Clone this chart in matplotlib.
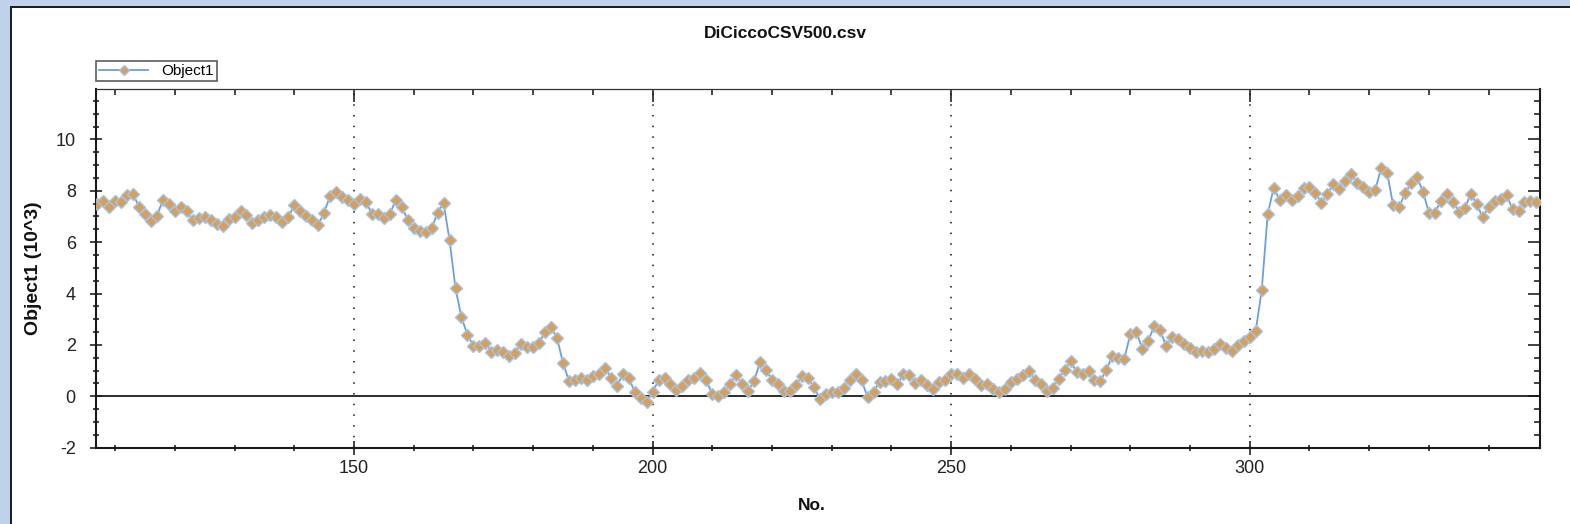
import matplotlib
matplotlib.use("Agg")
import matplotlib.pyplot as plt
import matplotlib.lines as mlines
from matplotlib.patches import Rectangle
from matplotlib.ticker import MultipleLocator
import numpy as np

title = "DiCiccoCSV500.csv"
series_name = "Object1"
x_label = "No."
y_label = "Object1 (10^3)"

x_start = 107
values = [
    7.49, 7.59, 7.38, 7.62, 7.58, 7.82, 7.88, 7.38, 7.08, 6.82,   # 107-116
    7.02, 7.64, 7.49, 7.22, 7.35, 7.22, 6.86, 6.93, 6.97, 6.86,   # 117-126
    6.71, 6.63, 6.89, 6.99, 7.22, 7.06, 6.73, 6.86, 6.97, 7.06,   # 127-136
    6.97, 6.80, 6.97, 7.45, 7.22, 7.02, 6.86, 6.67, 7.15, 7.80,   # 137-146
    7.95, 7.76, 7.63, 7.49, 7.68, 7.58, 7.10, 7.10, 6.95, 7.10,   # 147-156
    7.64, 7.38, 6.86, 6.54, 6.44, 6.40, 6.54, 7.15, 7.52, 6.08,   # 157-166
    4.20, 3.07, 2.39, 1.96, 1.95, 2.08, 1.73, 1.82, 1.73, 1.57,   # 167-176
    1.70, 2.05, 1.92, 1.92, 2.08, 2.52, 2.70, 2.27, 1.30, 0.60,   # 177-186
    0.65, 0.71, 0.65, 0.80, 0.86, 1.12, 0.73, 0.39, 0.86, 0.73,   # 187-196
    0.17, -0.05, -0.22, 0.17, 0.62, 0.73, 0.47, 0.23, 0.39, 0.65, # 197-206
    0.73, 0.91, 0.62, 0.08, 0.00, 0.17, 0.49, 0.82, 0.49, 0.21,   # 207-216
    0.60, 1.34, 1.01, 0.65, 0.47, 0.21, 0.21, 0.43, 0.78, 0.73,   # 217-226
    0.36, -0.09, 0.09, 0.17, 0.17, 0.34, 0.62, 0.88, 0.62, -0.03, # 227-236
    0.17, 0.56, 0.60, 0.69, 0.47, 0.88, 0.82, 0.52, 0.62, 0.43,   # 237-246
    0.30, 0.56, 0.62, 0.86, 0.88, 0.73, 0.88, 0.69, 0.43, 0.47,   # 247-256
    0.30, 0.17, 0.30, 0.56, 0.69, 0.82, 0.99, 0.65, 0.48, 0.22,   # 257-266
    0.34, 0.67, 1.04, 1.36, 0.95, 0.86, 0.97, 0.65, 0.60, 1.04,   # 267-276
    1.57, 1.51, 1.47, 2.42, 2.51, 1.86, 2.16, 2.74, 2.57, 1.95,   # 277-286
    2.31, 2.25, 2.03, 1.90, 1.73, 1.77, 1.73, 1.86, 2.03, 1.90,   # 287-296
    1.77, 1.99, 2.16, 2.31, 2.55, 4.13, 7.08, 8.12, 7.64, 7.84,   # 297-306
    7.64, 7.80, 8.10, 8.16, 7.90, 7.54, 7.88, 8.27, 8.06, 8.39,   # 307-316
    8.65, 8.32, 8.14, 7.97, 8.03, 8.88, 8.71, 7.45, 7.36, 7.90,   # 317-326
    8.29, 8.53, 7.97, 7.15, 7.15, 7.62, 7.88, 7.58, 7.19, 7.32,   # 327-336
    7.88, 7.49, 6.97, 7.36, 7.62, 7.67, 7.84, 7.28, 7.22, 7.58,   # 337-346
    7.60, 7.58,                                                   # 347-348
]
x_values = np.arange(x_start, x_start + len(values))

x_major_ticks = [150, 200, 250, 300]
y_major_ticks = [-2, 0, 2, 4, 6, 8, 10]

plt.rcParams['font.family'] = ['Liberation Sans', 'DejaVu Sans']
plt.rcParams['axes.unicode_minus'] = False

W, H = 1570, 524
fig = plt.figure(figsize=(W / 100, H / 100), dpi=100)
fig.patch.set_facecolor('#BFD1EB')

# white inner panel with dark border (top/left)
panel = Rectangle((11 / W, -0.05), 1.1, 1 - 7 / H + 0.05, transform=fig.transFigure,
                  facecolor='white', edgecolor='#1a1a1a', linewidth=1.4, zorder=-10)
fig.patches.append(panel)

ax = fig.add_axes([96 / W, 1 - 447.7 / H, (1540 - 96) / W, (447.7 - 89.3) / H])
ax.set_zorder(1)
ax.set_facecolor('white')

ax.plot(x_values, values, color='#6C9FDB', linewidth=1.3, marker='D', markersize=6.6,
        markerfacecolor='#D6A05A', markeredgecolor='#A3C3EA', markeredgewidth=1.0,
        label=series_name, zorder=4)

ax.axhline(0, color='#1a1a1a', linewidth=1.3, zorder=2)
for xv in x_major_ticks:
    ax.axvline(xv, color='#111111', linewidth=1.1, linestyle=(0, (1, 6)), zorder=1)

ax.set_xlim(106.8, 348.6)
ax.set_ylim(-2, 11.95)
ax.set_xticks(x_major_ticks)
ax.set_yticks(y_major_ticks)
ax.xaxis.set_minor_locator(MultipleLocator(10))
ax.yaxis.set_minor_locator(MultipleLocator(0.5))

ax.tick_params(axis='both', which='both', top=True, right=True, colors='#111111',
               labelcolor='#222222', width=1.1)
ax.tick_params(axis='x', which='major', direction='inout', length=9.5, pad=4, labelsize=13)
ax.tick_params(axis='x', which='minor', direction='inout', length=4.5)
ax.tick_params(axis='y', which='major', direction='inout', length=9, pad=10, labelsize=13)
ax.tick_params(axis='y', which='minor', direction='inout', length=4.5)
# top/right ticks point inward only
for t in ax.xaxis.get_major_ticks() + ax.xaxis.get_minor_ticks():
    t.tick2line.set_marker(mlines.TICKDOWN)
for t in ax.yaxis.get_major_ticks() + ax.yaxis.get_minor_ticks():
    t.tick2line.set_marker(mlines.TICKLEFT)

for side in ['left', 'bottom', 'right']:
    ax.spines[side].set_linewidth(1.5)
    ax.spines[side].set_color('#1a1a1a')
ax.spines['top'].set_linewidth(0.9)
ax.spines['top'].set_color('#333333')

fig.text(785 / W, 1 - 33 / H, title, ha='center', va='center', fontsize=12.5,
         fontweight='bold', color='#111111')
fig.text(812 / W, 1 - 505 / H, x_label, ha='center', va='center', fontsize=12.5,
         fontweight='bold', color='#111111')
fig.text(33 / W, 1 - 268 / H, y_label, ha='center', va='center', fontsize=14,
         fontweight='bold', rotation=90, color='#111111')

leg = ax.legend(loc='lower left', bbox_to_anchor=(96 / W, 1 - 81 / H),
                bbox_transform=fig.transFigure, borderaxespad=0, fontsize=11,
                frameon=True, fancybox=False, handlelength=3.2, handletextpad=0.9,
                borderpad=0.2, markerscale=0.75)
leg.get_frame().set_edgecolor('#333333')
leg.get_frame().set_linewidth(1.2)

fig.savefig('out.png', dpi=100, facecolor=fig.get_facecolor())
